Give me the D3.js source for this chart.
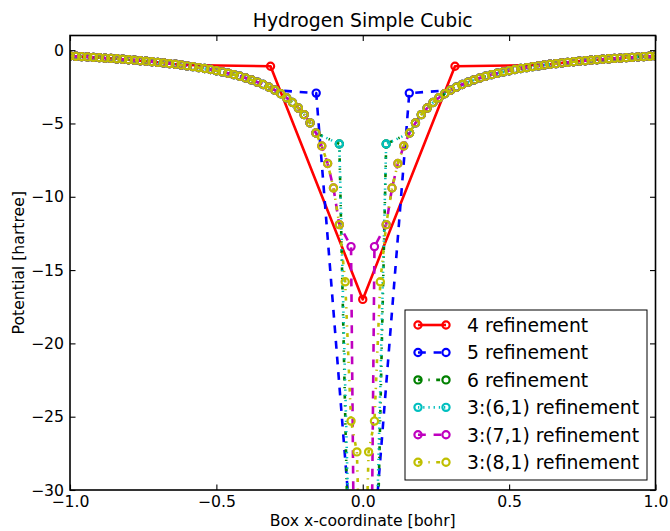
<!DOCTYPE html>
<html>
<head>
<meta charset="utf-8">
<script src="https://cdn.jsdelivr.net/npm/d3@7"></script>
<style>
  body { margin: 0; background: #fff; }
  text { font-family: "DejaVu Sans", sans-serif; fill: #000; }
</style>
</head>
<body>
<svg id="chart" width="670" height="531"></svg>
<script>
// sample points along the box, left half (right half is the mirror image)
var gridX = [-1.00, -0.98, -0.96, -0.94, -0.92, -0.90, -0.88, -0.86, -0.84, -0.82,
             -0.80, -0.78, -0.76, -0.74, -0.72, -0.70, -0.68, -0.66, -0.64, -0.62,
             -0.60, -0.58, -0.56, -0.54, -0.52, -0.50, -0.48, -0.46, -0.44, -0.42,
             -0.40, -0.38, -0.36, -0.34, -0.32, -0.30, -0.28, -0.26, -0.24, -0.22,
             -0.20, -0.18, -0.16, -0.14, -0.12, -0.10, -0.08, -0.06, -0.04];
var curveV = [-0.40, -0.42, -0.44, -0.46, -0.49, -0.51, -0.54, -0.56, -0.59, -0.62,
              -0.65, -0.68, -0.72, -0.75, -0.79, -0.83, -0.87, -0.92, -0.96, -1.01,
              -1.07, -1.12, -1.19, -1.25, -1.32, -1.40, -1.48, -1.57, -1.67, -1.78,
              -1.90, -2.03, -2.18, -2.34, -2.53, -2.73, -2.97, -3.25, -3.57, -3.95,
              -4.40, -4.96, -5.65, -6.54, -7.73, -9.40, -11.9, -15.8, -25.3];

var seriesNames = ["4 refinement", "5 refinement", "6 refinement",
                   "3:(6,1) refinement", "3:(7,1) refinement", "3:(8,1) refinement"];
// last grid point of each run that still sits on the smooth curve
var curveCut = [-0.62, -0.30, -0.16, -0.16, -0.08, -0.04];
// node next to the nucleus, and the value at the nucleus (x = 0)
var innerX = [-0.315, -0.159, -0.080, -0.080, -0.040, -0.020];
var innerV = [-1.10, -2.93, -6.40, -6.40, -13.4, -27.4];
var centreV = [-17.0, -43.0, -80.0, -72.0, -100.0, -42.0];

var xTicks = [-1.0, -0.5, 0.0, 0.5, 1.0];
var yTicks = [0, -5, -10, -15, -20, -25, -30];

var colors = ["#ff0000", "#0000ff", "#008000", "#00bfbf", "#bf00bf", "#bfbf00"];
var dashes = [null, "7.8,7.8", "3.9,6.5,1.3,6.5", "1.3,3.9", "7.8,7.8", "3.9,6.5,1.3,6.5"];

var svg = d3.select("#chart");
var plotL = 70, plotR = 655.5, plotT = 35.5, plotB = 490;

var x = d3.scaleLinear().domain([-1, 1]).range([plotL, plotR]);
var y = d3.scaleLinear().domain([-30, 1]).range([plotB, plotT]);

svg.append("defs").append("clipPath").attr("id", "plotClip")
  .append("rect")
  .attr("x", plotL).attr("y", plotT)
  .attr("width", plotR - plotL).attr("height", plotB - plotT);

function buildSeries(i) {
  var pts = [];
  gridX.forEach(function(gx, k) {
    if (gx <= curveCut[i] + 1e-9) pts.push([gx, curveV[k]]);
  });
  pts.push([innerX[i], innerV[i]]);
  var half = pts.slice();
  pts.push([0, centreV[i]]);
  for (var k = half.length - 1; k >= 0; k--) {
    pts.push([-half[k][0], half[k][1]]);
  }
  return pts;
}

var line = d3.line()
  .x(function(d) { return x(d[0]); })
  .y(function(d) { return y(d[1]); });

var plot = svg.append("g").attr("clip-path", "url(#plotClip)");

seriesNames.forEach(function(name, i) {
  var pts = buildSeries(i);
  var g = plot.append("g");
  g.append("path")
    .datum(pts)
    .attr("d", line)
    .attr("fill", "none")
    .attr("stroke", colors[i])
    .attr("stroke-width", 2.6)
    .attr("stroke-linejoin", "round")
    .attr("stroke-dasharray", dashes[i]);
  g.selectAll("circle")
    .data(pts)
    .enter().append("circle")
    .attr("cx", function(d) { return x(d[0]); })
    .attr("cy", function(d) { return y(d[1]); })
    .attr("r", 3.6)
    .attr("fill", "none")
    .attr("stroke", colors[i])
    .attr("stroke-width", 2.2);
});

// axes: ticks pointing inward on all four sides
var fmtX = d3.format(".1f");
var fmtY = d3.format("d");

var gx = svg.append("g").attr("transform", "translate(0," + plotB + ")")
  .call(d3.axisBottom(x).tickValues(xTicks).tickFormat(fmtX).tickSizeInner(-5.5).tickSizeOuter(0).tickPadding(6));
var gxTop = svg.append("g").attr("transform", "translate(0," + plotT + ")")
  .call(d3.axisTop(x).tickValues(xTicks).tickFormat("").tickSizeInner(-5.5).tickSizeOuter(0));
var gy = svg.append("g").attr("transform", "translate(" + plotL + ",0)")
  .call(d3.axisLeft(y).tickValues(yTicks).tickFormat(fmtY).tickSizeInner(-5.5).tickSizeOuter(0).tickPadding(6));
var gyRight = svg.append("g").attr("transform", "translate(" + plotR + ",0)")
  .call(d3.axisRight(y).tickValues(yTicks).tickFormat("").tickSizeInner(-5.5).tickSizeOuter(0));

[gx, gxTop, gy, gyRight].forEach(function(g) {
  g.select(".domain").remove();
  g.selectAll(".tick line").attr("stroke", "#000").attr("stroke-width", 1.1);
  g.selectAll(".tick text").attr("font-size", "15.7px").attr("font-family", "DejaVu Sans").attr("fill", "#000");
});

svg.append("rect")
  .attr("x", plotL).attr("y", plotT)
  .attr("width", plotR - plotL).attr("height", plotB - plotT)
  .attr("fill", "none").attr("stroke", "#000").attr("stroke-width", 1.6);

svg.append("text")
  .attr("x", (plotL + plotR) / 2).attr("y", 27)
  .attr("text-anchor", "middle").attr("font-size", "18.8px")
  .text("Hydrogen Simple Cubic");

svg.append("text")
  .attr("x", (plotL + plotR) / 2).attr("y", 526)
  .attr("text-anchor", "middle").attr("font-size", "15.7px")
  .text("Box x-coordinate [bohr]");

svg.append("text")
  .attr("transform", "translate(24," + (plotT + plotB) / 2 + ") rotate(-90)")
  .attr("text-anchor", "middle").attr("font-size", "15.7px")
  .text("Potential [hartree]");

// legend, lower right
var lg = svg.append("g");
lg.append("rect")
  .attr("x", 405).attr("y", 310).attr("width", 242).attr("height", 170)
  .attr("fill", "#fff").attr("stroke", "#000").attr("stroke-width", 1);

seriesNames.forEach(function(name, i) {
  var cy = 325 + i * 27.45;
  lg.append("line")
    .attr("x1", 418).attr("x2", 446).attr("y1", cy).attr("y2", cy)
    .attr("stroke", colors[i]).attr("stroke-width", 2.6)
    .attr("stroke-dasharray", dashes[i]);
  [418, 446].forEach(function(mx) {
    lg.append("circle")
      .attr("cx", mx).attr("cy", cy).attr("r", 3.6)
      .attr("fill", "none").attr("stroke", colors[i]).attr("stroke-width", 2.2);
  });
  lg.append("text")
    .attr("x", 467).attr("y", cy).attr("dy", "0.36em")
    .attr("font-size", "18.8px")
    .text(name);
});
</script>
</body>
</html>
